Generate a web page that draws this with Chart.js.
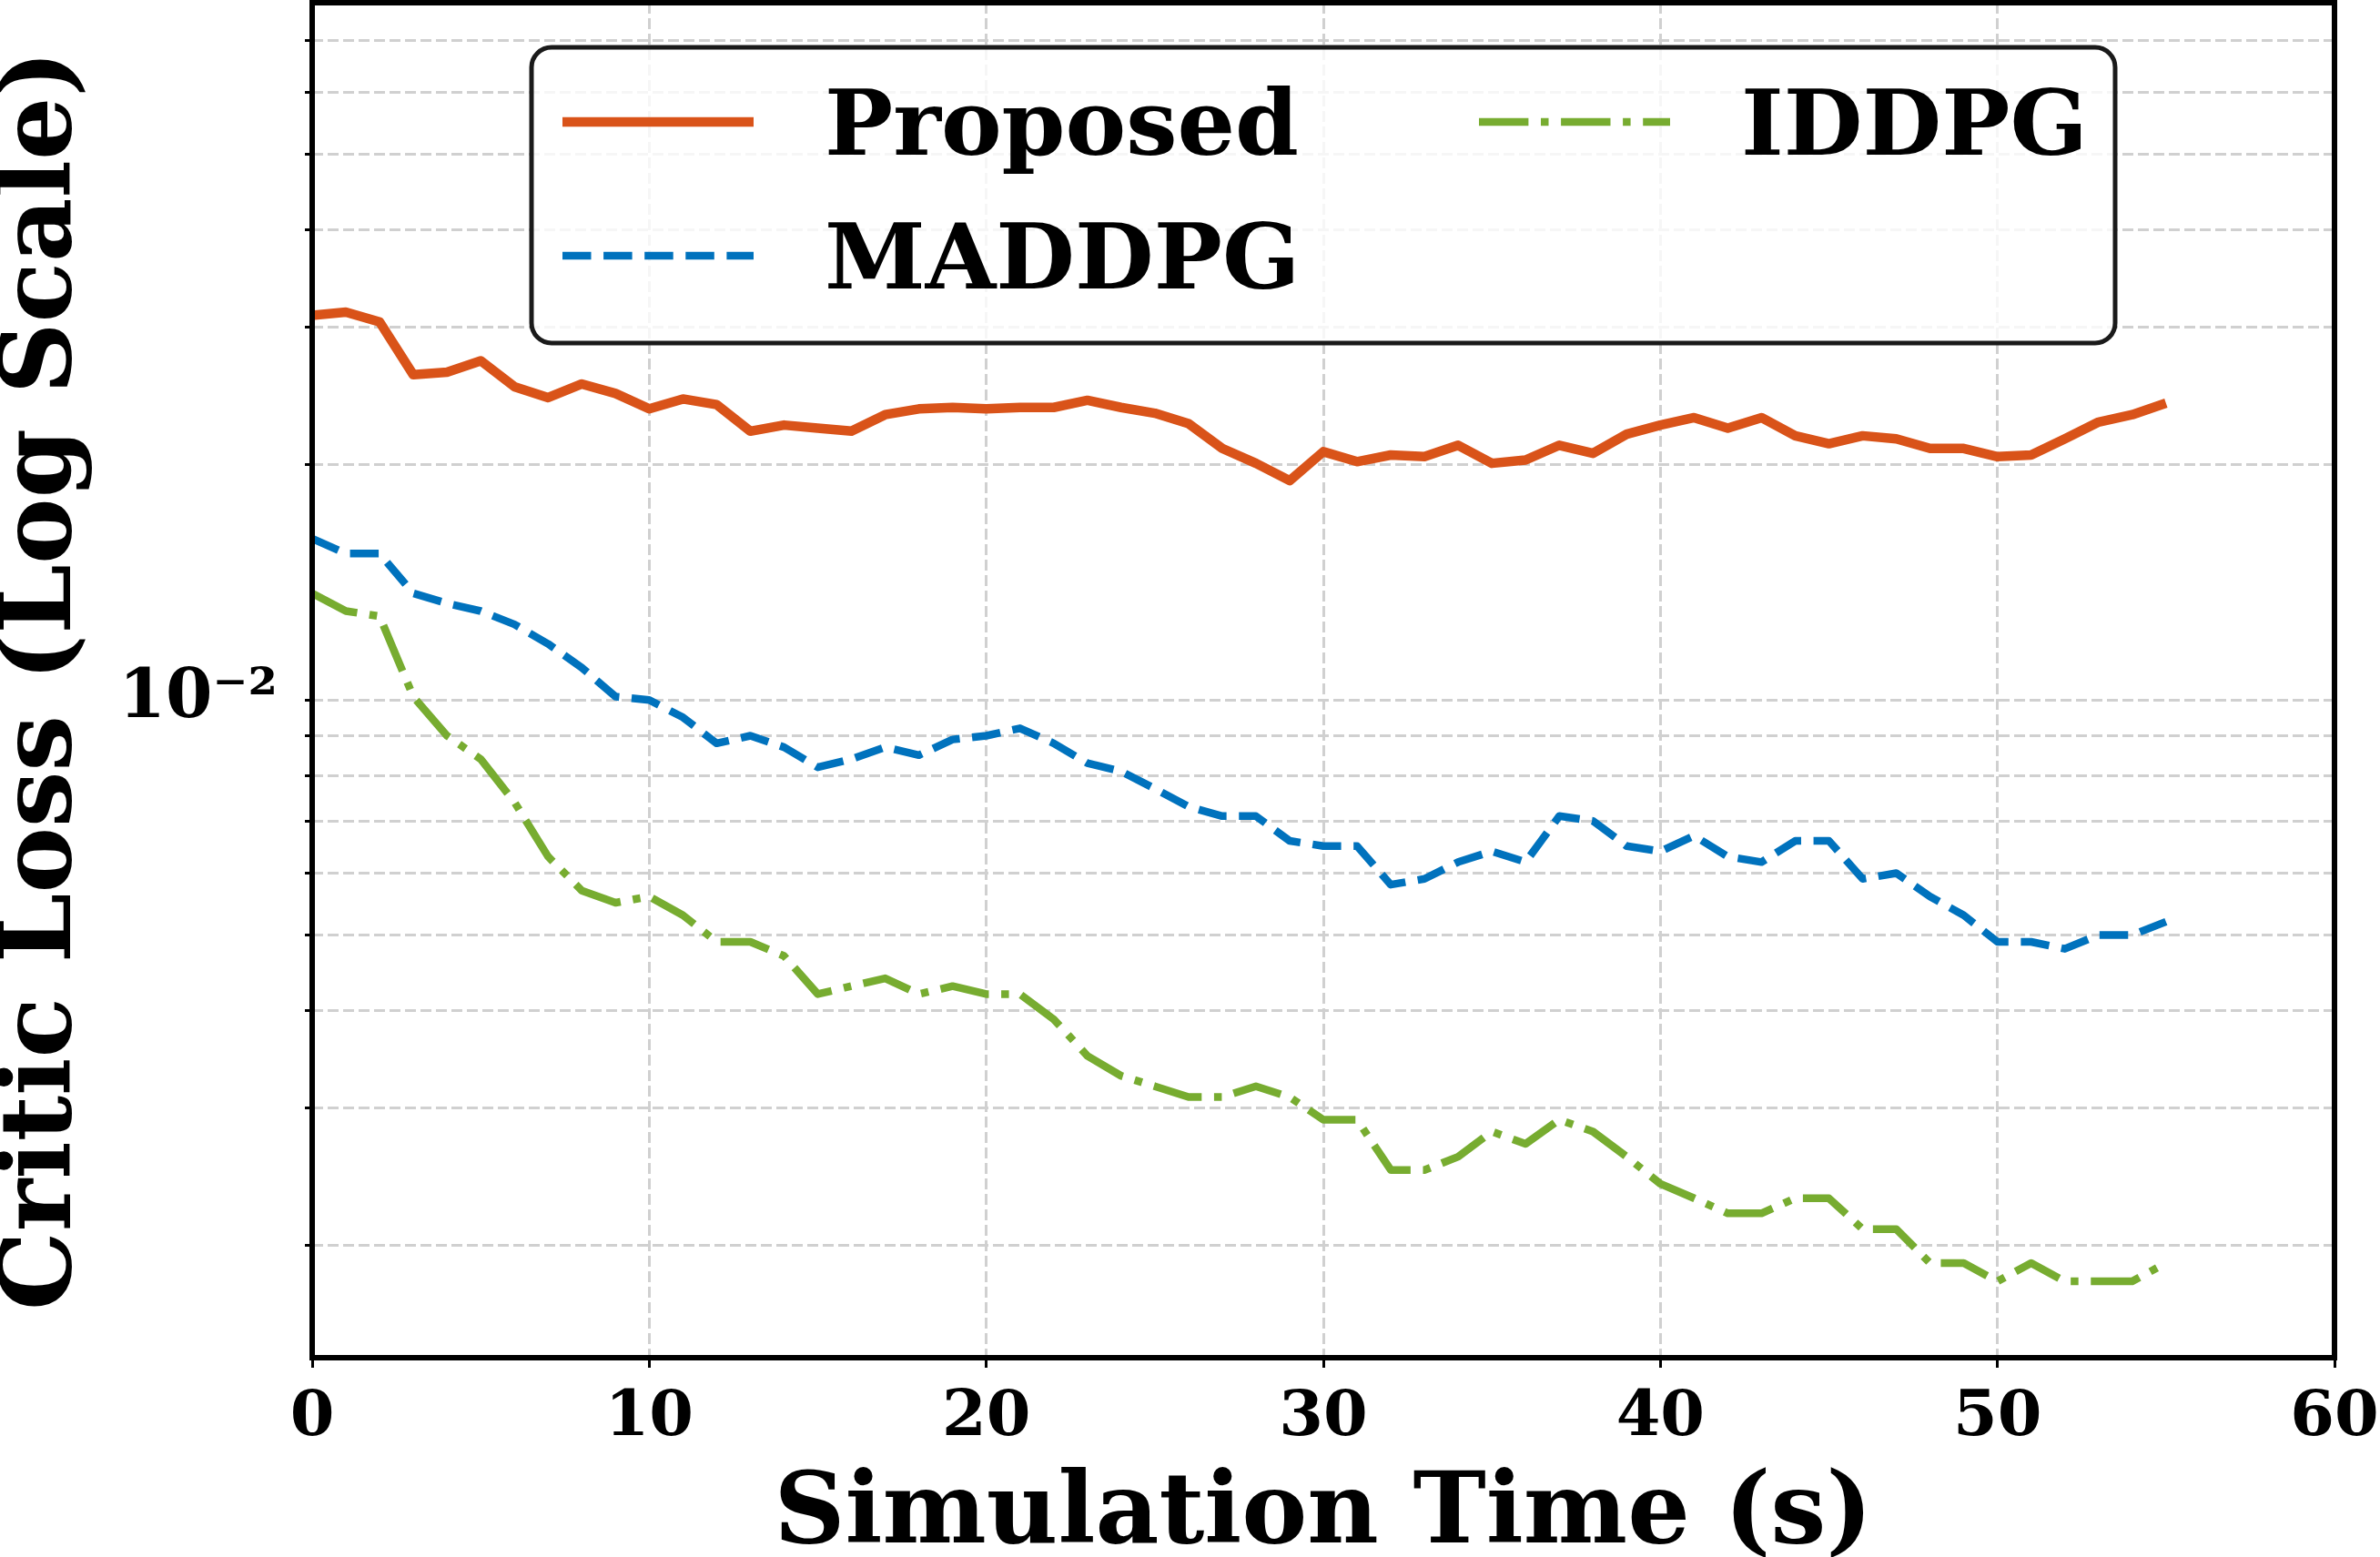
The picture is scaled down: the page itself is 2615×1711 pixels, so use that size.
<!DOCTYPE html>
<html>
<head>
<meta charset="utf-8">
<title>Critic Loss</title>
<script src="https://cdn.jsdelivr.net/npm/chart.js@4.4.1/dist/chart.umd.min.js"></script>
<style>
  html, body { margin: 0; padding: 0; background: #fff; }
  #wrap { width: 2615px; height: 1711px; }
</style>
</head>
<body>
<div id="wrap"><canvas id="lossChart"></canvas></div>
<script>
// Simulation time (s)
const times = [0, 1, 2, 3, 4, 5, 6, 7, 8, 9, 10, 11, 12, 13, 14, 15, 16, 17, 18, 19,
    20, 21, 22, 23, 24, 25, 26, 27, 28, 29, 30, 31, 32, 33, 34, 35, 36, 37, 38, 39,
    40, 41, 42, 43, 44, 45, 46, 47, 48, 49, 50, 51, 52, 53, 54, 55];

// Critic loss per method
const proposed = [0.0311, 0.0314, 0.0305, 0.0261, 0.0263, 0.0272, 0.0252, 0.0244, 0.0254, 0.0247,
    0.0236, 0.0243, 0.0239, 0.0221, 0.0225, 0.0223, 0.0221, 0.0232, 0.0236, 0.0237,
    0.0236, 0.0237, 0.0237, 0.0242, 0.0237, 0.0233, 0.0226, 0.0210, 0.0201, 0.0191,
    0.0208, 0.0202, 0.0206, 0.0205, 0.0212, 0.0201, 0.0203, 0.0212, 0.0207, 0.0219,
    0.0225, 0.0230, 0.0223, 0.0230, 0.0218, 0.0213, 0.0218, 0.0216, 0.0210, 0.0210,
    0.0205, 0.0206, 0.0216, 0.0227, 0.0232, 0.0240];

const maddpg = [0.0161, 0.0154, 0.0154, 0.0137, 0.0133, 0.0130, 0.0125, 0.0118, 0.0110, 0.0101,
    0.0100, 0.0095, 0.0088, 0.0090, 0.0087, 0.0082, 0.0084, 0.0087, 0.0085, 0.0089,
    0.0090, 0.0092, 0.0088, 0.0083, 0.0081, 0.0077, 0.0073, 0.0071, 0.0071, 0.0066,
    0.0065, 0.0065, 0.0058, 0.0059, 0.0062, 0.0064, 0.0062, 0.0071, 0.0070, 0.0065,
    0.0064, 0.0067, 0.0063, 0.0062, 0.0066, 0.0066, 0.0059, 0.0060, 0.0056, 0.0053,
    0.0049, 0.0049, 0.0048, 0.0050, 0.0050, 0.0052];

const iddpg = [0.0137, 0.0130, 0.0128, 0.0101, 0.0090, 0.0084, 0.0074, 0.0063, 0.0057, 0.0055,
    0.0056, 0.0053, 0.0049, 0.0049, 0.0047, 0.0042, 0.0043, 0.0044, 0.0042, 0.0043,
    0.0042, 0.0042, 0.0039, 0.0035, 0.0033, 0.0032, 0.0031, 0.0031, 0.0032, 0.0031,
    0.0029, 0.0029, 0.0025, 0.0025, 0.0026, 0.0028, 0.0027, 0.0029, 0.0028, 0.0026,
    0.0024, 0.0023, 0.0022, 0.0022, 0.0023, 0.0023, 0.0021, 0.0021, 0.0019, 0.0019,
    0.0018, 0.0019, 0.0018, 0.0018, 0.0018, 0.0019];

// Axis ticks
const xTicks = [0, 10, 20, 30, 40, 50, 60];
const yTicks = [0.002, 0.003, 0.004, 0.005, 0.006, 0.007, 0.008, 0.009,
    0.01, 0.02, 0.03, 0.04, 0.05, 0.06, 0.07];
const yMajor = 0.01;

const serif = "'DejaVu Serif', 'Liberation Serif', serif";

function pts(vals) {
    return vals.map((v, i) => ({ x: times[i], y: v }));
}

function noPad(s) {
    s.paddingTop = 0;
    s.paddingBottom = 0;
    s.paddingLeft = 0;
    s.paddingRight = 0;
}

// box around the plot + legend inside the axes (matplotlib style)
const frameAndLegend = {
    id: "frameAndLegend",
    afterDatasetsDraw(chart) {
        const { ctx, chartArea: a } = chart;
        ctx.save();
        ctx.strokeStyle = "#000";
        ctx.lineWidth = 6;
        ctx.setLineDash([]);
        ctx.strokeRect(a.left, a.top, a.right - a.left, a.bottom - a.top);

        const bx = a.left + 241, by = a.top + 49, bw = 1740, bh = 325;
        ctx.beginPath();
        ctx.roundRect(bx, by, bw, bh, 22);
        ctx.fillStyle = "rgba(255,255,255,0.8)";
        ctx.fill();
        ctx.lineWidth = 5;
        ctx.strokeStyle = "#1a1a1a";
        ctx.stroke();

        const slots = [
            [a.left + 275, a.top + 131],
            [a.left + 275, a.top + 278],
            [a.left + 1282, a.top + 131]
        ];
        ctx.font = "bold 100px " + serif;
        ctx.textBaseline = "alphabetic";
        ctx.textAlign = "left";
        chart.data.datasets.forEach((ds, i) => {
            const [sx, sy] = slots[i];
            ctx.beginPath();
            ctx.setLineDash(ds.borderDash || []);
            ctx.lineWidth = ds.borderWidth;
            ctx.strokeStyle = ds.borderColor;
            ctx.lineCap = "butt";
            ctx.moveTo(sx, sy);
            ctx.lineTo(sx + 210, sy);
            ctx.stroke();
            ctx.setLineDash([]);
            ctx.fillStyle = "#000";
            ctx.fillText(ds.label, sx + 288, sy + 36);
        });
        ctx.restore();
    }
};

const gridStyle = { color: "#d0d0d0", lineWidth: 3, tickColor: "#000", tickWidth: 3 };

new Chart(document.getElementById("lossChart").getContext("2d"), {
    type: "line",
    data: {
        datasets: [{
                label: "Proposed",
                data: pts(proposed),
                borderColor: "#D95319",
                borderWidth: 10.5,
                borderJoinStyle: "round",
                pointRadius: 0,
                fill: false,
                tension: 0
            },
            {
                label: "MADDPG",
                data: pts(maddpg),
                borderColor: "#0072BD",
                borderWidth: 8.5,
                borderDash: [31.5, 13.6],
                borderJoinStyle: "round",
                pointRadius: 0,
                fill: false,
                tension: 0
            },
            {
                label: "IDDPG",
                data: pts(iddpg),
                borderColor: "#77AC30",
                borderWidth: 8.5,
                borderDash: [54.4, 13.6, 8.5, 13.6],
                borderJoinStyle: "round",
                pointRadius: 0,
                fill: false,
                tension: 0
            }
        ]
    },
    options: {
        responsive: true,
        maintainAspectRatio: false,
        animation: false,
        layout: { padding: { top: 3, right: 50, bottom: 0, left: 0 } },
        plugins: { legend: { display: false }, tooltip: { enabled: false } },
        scales: {
            x: {
                type: "linear",
                min: 0,
                max: 60,
                afterBuildTicks: s => { s.ticks = xTicks.map(v => ({ value: v })); },
                afterFit: s => { s.height = 219; noPad(s); },
                grid: { ...gridStyle, tickLength: 11 },
                border: { display: false, dash: [12, 5] },
                ticks: {
                    color: "#000",
                    padding: 14,
                    maxRotation: 0,
                    font: { family: serif, size: 70, weight: "bold" }
                },
                title: {
                    display: true,
                    text: "Simulation Time (s)",
                    color: "#000",
                    padding: { top: 0, bottom: 0 },
                    font: { family: serif, size: 108, weight: "bold", lineHeight: 0.82 }
                }
            },
            y: {
                type: "logarithmic",
                min: 0.001437,
                max: 0.0782,
                afterBuildTicks: s => { s.ticks = yTicks.map(v => ({ value: v, major: v === yMajor })); },
                afterFit: s => { s.width = 343; noPad(s); },
                grid: { ...gridStyle, tickLength: 8 },
                border: { display: false, dash: [12, 5] },
                ticks: {
                    color: "#000",
                    padding: 30,
                    autoSkip: false,
                    callback: v => (v === yMajor ? "10\u207B\u00B2" : ""),
                    font: { family: serif, size: 74, weight: "bold" }
                },
                title: {
                    display: true,
                    text: "Critic Loss (Log Scale)",
                    color: "#000",
                    padding: { top: 0, bottom: 0 },
                    font: { family: serif, size: 109, weight: "bold", lineHeight: 0.9 }
                }
            }
        }
    },
    plugins: [frameAndLegend]
});
</script>
</body>
</html>
